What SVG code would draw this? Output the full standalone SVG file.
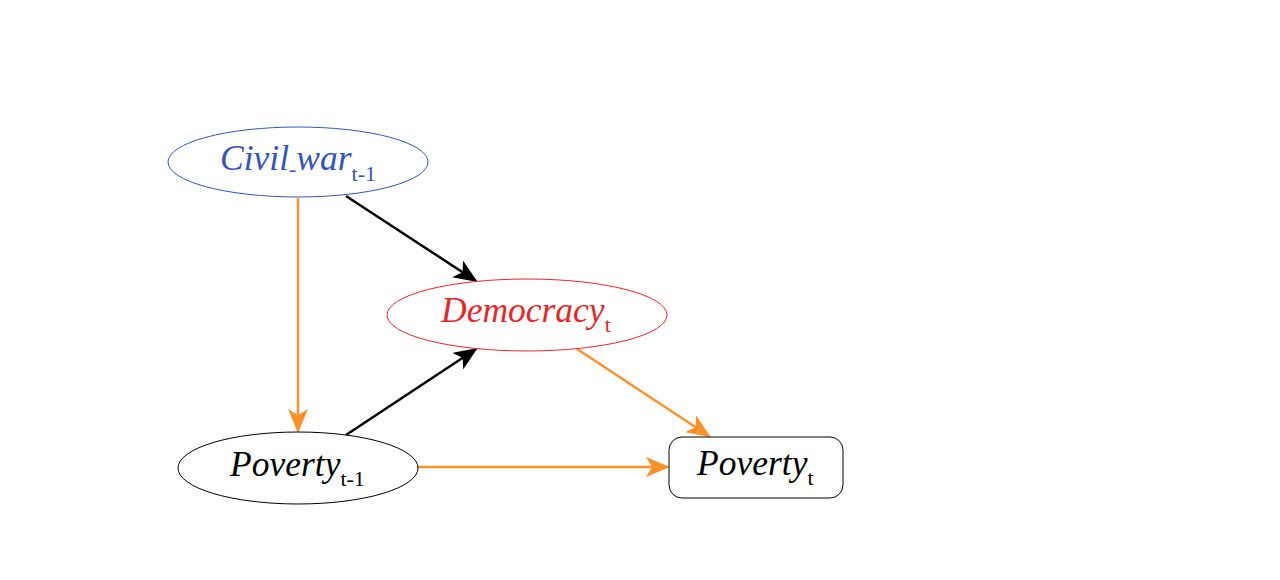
<svg xmlns="http://www.w3.org/2000/svg" width="1280" height="580" viewBox="0 0 1280 580">
<style>
.lbl{font-family:"Liberation Serif","Times New Roman",serif;font-style:italic;font-size:35.5px}
.sub{font-style:normal;font-size:22px}
.k{stroke:#000;stroke-width:2.5;fill:none}
.o{stroke:#fb912b;stroke-width:2.5;fill:none}
</style>
<defs>
<marker id="ak" viewBox="0 0 24 20" refX="22" refY="10" markerWidth="24" markerHeight="20" markerUnits="userSpaceOnUse" orient="auto">
<path d="M0,0 L24,10 L0,20 L6,10 Z" fill="#000"/>
</marker>
<marker id="ao" viewBox="0 0 24 20" refX="22" refY="10" markerWidth="24" markerHeight="20" markerUnits="userSpaceOnUse" orient="auto">
<path d="M0,0 L24,10 L0,20 L6,10 Z" fill="#fb912b"/>
</marker>
</defs>
<rect width="1280" height="580" fill="#fff"/>
<g id="connectors">
<line class="k" x1="346" y1="196" x2="476" y2="281" marker-end="url(#ak)"/>
<line class="k" x1="346" y1="435" x2="476" y2="349" marker-end="url(#ak)"/>
<line class="o" x1="298" y1="198" x2="298" y2="431" marker-end="url(#ao)"/>
<line class="o" x1="577" y1="349" x2="709" y2="436" marker-end="url(#ao)"/>
<line class="o" x1="418" y1="467" x2="668" y2="467" marker-end="url(#ao)"/>
</g>
<g id="civil_war">
<ellipse cx="298" cy="162" rx="130" ry="35" fill="#fff" stroke="#3355bb" stroke-width="1"/>
<text class="lbl" x="220" y="170" fill="#3355bb">Civil<tspan class="sub" dy="6">-</tspan><tspan dy="-6">war</tspan><tspan class="sub" dy="11">t-1</tspan></text>
</g>
<g id="democracy">
<ellipse cx="527" cy="315" rx="140" ry="36" fill="#fff" stroke="#e8262a" stroke-width="1"/>
<text class="lbl" x="441" y="322" fill="#e8262a">Democracy<tspan class="sub" dy="10">t</tspan></text>
</g>
<g id="poverty_t1">
<ellipse cx="298" cy="468" rx="120" ry="36" fill="#fff" stroke="#000" stroke-width="1"/>
<text class="lbl" x="230" y="476" fill="#000">Poverty<tspan class="sub" dy="10">t-1</tspan></text>
</g>
<g id="poverty_t">
<rect x="669" y="437" width="174" height="61" rx="13" fill="#fff" stroke="#000" stroke-width="1"/>
<text class="lbl" x="697" y="475" fill="#000">Poverty<tspan class="sub" dy="10">t</tspan></text>
</g>
</svg>
